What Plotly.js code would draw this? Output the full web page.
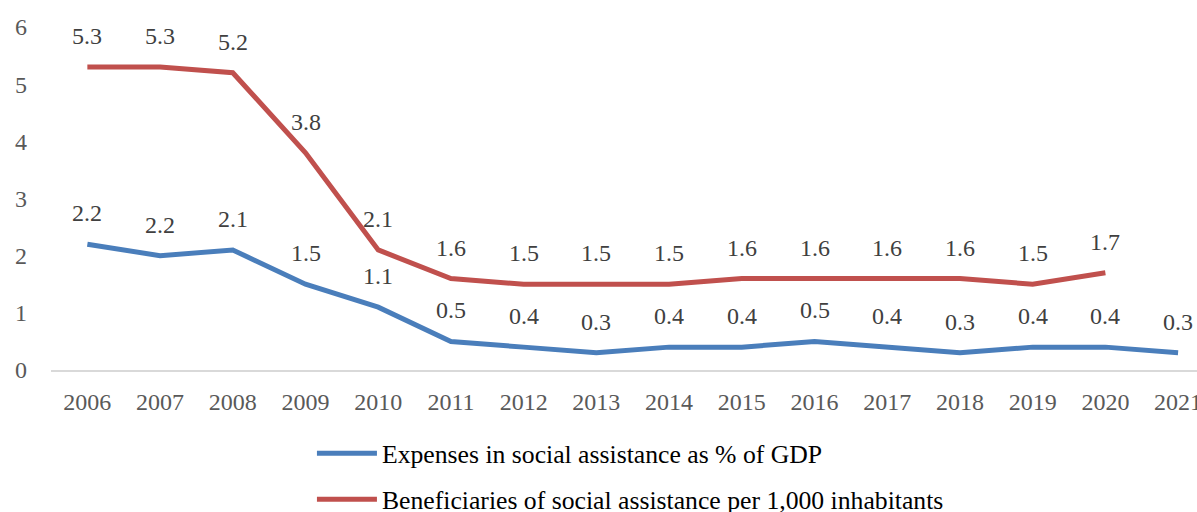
<!DOCTYPE html>
<html><head><meta charset="utf-8">
<script src="https://cdn.plot.ly/plotly-3.0.1.min.js"></script>
<style>html,body{margin:0;padding:0;background:#fff;}#chart{width:1197px;height:512px;}</style>
</head><body><div id="chart"></div>
<script>
const years = ['2006','2007','2008','2009','2010','2011','2012','2013','2014','2015','2016','2017','2018','2019','2020','2021'];
const expensesName = 'Expenses in social assistance as % of GDP';
const expenses = [2.2, 2.0, 2.1, 1.5, 1.1, 0.5, 0.4, 0.3, 0.4, 0.4, 0.5, 0.4, 0.3, 0.4, 0.4, 0.3];
const expensesLabels = ['2.2','2.2','2.1','1.5','1.1','0.5','0.4','0.3','0.4','0.4','0.5','0.4','0.3','0.4','0.4','0.3'];
const beneficiariesName = 'Beneficiaries of social assistance per 1,000 inhabitants';
const beneficiaries = [5.3, 5.3, 5.2, 3.8, 2.1, 1.6, 1.5, 1.5, 1.5, 1.6, 1.6, 1.6, 1.6, 1.5, 1.7];
const beneficiariesLabels = ['5.3','5.3','5.2','3.8','2.1','1.6','1.5','1.5','1.5','1.6','1.6','1.6','1.6','1.5','1.7'];
const yTicks = [0,1,2,3,4,5,6];

const FONT = 'Liberation Serif, serif';
const blue = '#4A7EBB', red = '#C0504D';

const traces = [
  {x: years.slice(0, expenses.length), y: expenses, name: expensesName, type: 'scatter', mode: 'lines',
   line: {color: blue, width: 5}, legendgroup: 'a', cliponaxis: false},
  {x: years.slice(0, beneficiaries.length), y: beneficiaries, name: beneficiariesName, type: 'scatter', mode: 'lines',
   line: {color: red, width: 5}, legendgroup: 'b', cliponaxis: false}
];

const annotations = [];
function addLabels(vals, labels) {
  for (let i = 0; i < vals.length; i++) {
    annotations.push({x: i, y: vals[i], text: labels[i], showarrow: false,
      yshift: 31, xref: 'x', yref: 'y', font: {family: FONT, size: 24, color: '#404040'}});
  }
}
addLabels(expenses, expensesLabels);
addLabels(beneficiaries, beneficiariesLabels);

const layout = {
  width: 1197, height: 512,
  margin: {l: 51, r: 0, t: 27, b: 142},
  paper_bgcolor: '#fff', plot_bgcolor: '#fff',
  showlegend: true,
  legend: {orientation: 'v', xref: 'paper', x: 0.2277, xanchor: 'left', yref: 'container', y: 0.16, yanchor: 'top',
    font: {family: FONT, size: 25.7, color: '#000'}, tracegroupgap: 9.5, traceorder: 'grouped', itemwidth: 60},
  xaxis: {type: 'category', categoryorder: 'array', categoryarray: years, range: [-0.5, 15.26],
    showgrid: false, zeroline: false, showline: true, linecolor: '#D9D9D9', linewidth: 2,
    ticks: '', ticklabelstandoff: 9, tickfont: {family: FONT, size: 24, color: '#595959'}, fixedrange: true},
  yaxis: {range: [0, 6], tickvals: yTicks, ticktext: yTicks.map(String), showgrid: false, zeroline: false,
    showline: false, ticks: '', ticklabelstandoff: 23, tickfont: {family: FONT, size: 24, color: '#595959'}, fixedrange: true},
  annotations: annotations
};
Plotly.newPlot('chart', traces, layout, {displayModeBar: false, staticPlot: true});
</script></body></html>
